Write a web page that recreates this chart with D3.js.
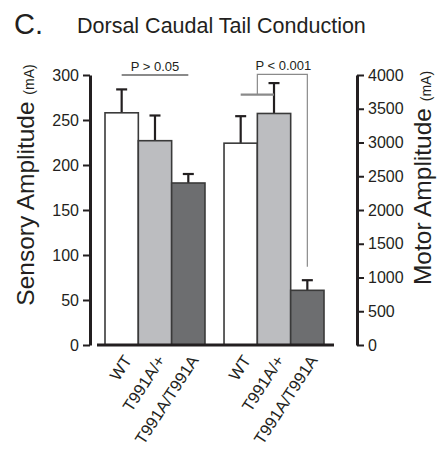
<!DOCTYPE html>
<html><head><meta charset="utf-8">
<script src="https://cdn.jsdelivr.net/npm/d3@7"></script>
<style>
body{margin:0;background:#fff;}
svg{font-family:"Liberation Sans",Arial,Helvetica,sans-serif;}
</style></head>
<body><svg id="c" width="446" height="456"></svg>
<script>
const groups = ["Sensory","Motor"];
const genotypes = ["WT","T991A/+","T991A/T991A"];
const sensoryValues = [258, 227, 180];
const sensoryErrors = [26, 28, 10];
const motorValues = [2990, 3430, 810];
const motorErrors = [400, 450, 150];
const sensoryTicks = [0,50,100,150,200,250,300];
const motorTicks = [0,500,1000,1500,2000,2500,3000,3500,4000];
const colors = ["#ffffff","#bcbdc0","#6d6e70"];

const svg = d3.select("#c");
const y0 = 345, yTop = 75;
const ySens = d3.scaleLinear().domain([0,300]).range([y0,yTop]);
const yMot = d3.scaleLinear().domain([0,4000]).range([y0,yTop]);
const xGroup = d3.scaleBand().domain(groups).range([105,324]).paddingInner(0.16).paddingOuter(0);
const xInner = d3.scaleBand().domain(genotypes).range([0,xGroup.bandwidth()]).padding(0);

const rows = [];
genotypes.forEach((g,i)=>rows.push({group:"Sensory",g,i,v:sensoryValues[i],e:sensoryErrors[i],y:ySens}));
genotypes.forEach((g,i)=>rows.push({group:"Motor",g,i,v:motorValues[i],e:motorErrors[i],y:yMot}));
const cx = d=>xGroup(d.group)+xInner(d.g)+xInner.bandwidth()/2;

// error bars
const eb = svg.append("g");
rows.forEach(d=>{
  const x = cx(d);
  eb.append("line").attr("x1",x).attr("x2",x).attr("y1",d.y(d.v)).attr("y2",d.y(d.v+d.e)).attr("stroke","#231f20").attr("stroke-width",2.2);
  eb.append("line").attr("x1",x-5.5).attr("x2",x+5.5).attr("y1",d.y(d.v+d.e)).attr("y2",d.y(d.v+d.e)).attr("stroke","#231f20").attr("stroke-width",2.2);
});

// bars
svg.append("g").selectAll("rect").data(rows).join("rect")
  .attr("x",d=>xGroup(d.group)+xInner(d.g))
  .attr("width",xInner.bandwidth())
  .attr("y",d=>d.y(d.v))
  .attr("height",d=>y0-d.y(d.v))
  .attr("fill",d=>colors[d.i])
  .attr("stroke","#3a3a3a").attr("stroke-width",1.6);

// baseline
svg.append("line").attr("x1",97).attr("x2",334).attr("y1",y0).attr("y2",y0).attr("stroke","#231f20").attr("stroke-width",3);

// left axis
const la = svg.append("g").attr("transform","translate(90,0)")
  .call(d3.axisLeft(ySens).tickValues(sensoryTicks).tickFormat(d3.format("d")).tickSize(7).tickPadding(4).tickSizeOuter(0));
la.select(".domain").attr("stroke","#231f20").attr("stroke-width",3);
la.selectAll(".tick line").attr("stroke","#231f20").attr("stroke-width",2);
la.selectAll(".tick text").attr("font-size",16).attr("fill","#231f20").attr("font-family","Liberation Sans, Arial, sans-serif");

// right axis
const ra = svg.append("g").attr("transform","translate(357,0)")
  .call(d3.axisRight(yMot).tickValues(motorTicks).tickFormat(d3.format("d")).tickSize(7).tickPadding(4).tickSizeOuter(0));
ra.select(".domain").attr("stroke","#231f20").attr("stroke-width",3);
ra.selectAll(".tick line").attr("stroke","#231f20").attr("stroke-width",2);
ra.selectAll(".tick text").attr("font-size",16).attr("fill","#231f20").attr("font-family","Liberation Sans, Arial, sans-serif");

// x labels
svg.append("g").selectAll("text").data(rows).join("text")
  .attr("transform",d=>`translate(${cx(d)+6},${357}) rotate(-57)`)
  .attr("text-anchor","end")
  .attr("font-size",16.5).attr("fill","#231f20")
  .attr("dy","0.35em")
  .text(d=>d.g);

// axis titles
const lt = svg.append("text").attr("transform",`translate(34,185) rotate(-90)`).attr("text-anchor","middle").attr("fill","#231f20");
lt.append("tspan").attr("font-size",24.5).text("Sensory Amplitude ");
lt.append("tspan").attr("font-size",14).text("(mA)");
const rt = svg.append("text").attr("transform",`translate(431,178) rotate(-90)`).attr("text-anchor","middle").attr("fill","#231f20");
rt.append("tspan").attr("font-size",24.5).text("Motor Amplitude ");
rt.append("tspan").attr("font-size",14).text("(mA)");

// title
svg.append("text").attr("x",14).attr("y",34).attr("font-size",29).attr("fill","#231f20").text("C.");
svg.append("text").attr("x",77).attr("y",33).attr("font-size",21.5).attr("fill","#231f20").text("Dorsal Caudal Tail Conduction");

// significance annotations
const sigGrey = "#8a8a8a";
const sx1 = cx(rows[0]), sx3 = cx(rows[2]);
svg.append("line").attr("x1",sx1).attr("x2",sx3).attr("y1",ySens(300)).attr("y2",ySens(300)).attr("stroke",sigGrey).attr("stroke-width",2);
svg.append("text").attr("x",(sx1+sx3)/2).attr("y",ySens(300)-4).attr("text-anchor","middle").attr("font-size",13).attr("fill","#231f20").text("P > 0.05");

const m1 = cx(rows[3]), m2 = cx(rows[4]), m3 = cx(rows[5]);
const mid = (m1+m2)/2;
svg.append("line").attr("x1",m1).attr("x2",m2).attr("y1",yMot(3710)).attr("y2",yMot(3710)).attr("stroke",sigGrey).attr("stroke-width",2.2);
svg.append("path").attr("d",`M${mid},${yMot(3710)}V${yMot(4010)}H${m3}V${yMot(1160)}`).attr("fill","none").attr("stroke",sigGrey).attr("stroke-width",1.2);
svg.append("text").attr("x",(mid+m3)/2+1).attr("y",yMot(4010)-4).attr("text-anchor","middle").attr("font-size",13).attr("fill","#231f20").text("P < 0.001");
</script></body></html>
